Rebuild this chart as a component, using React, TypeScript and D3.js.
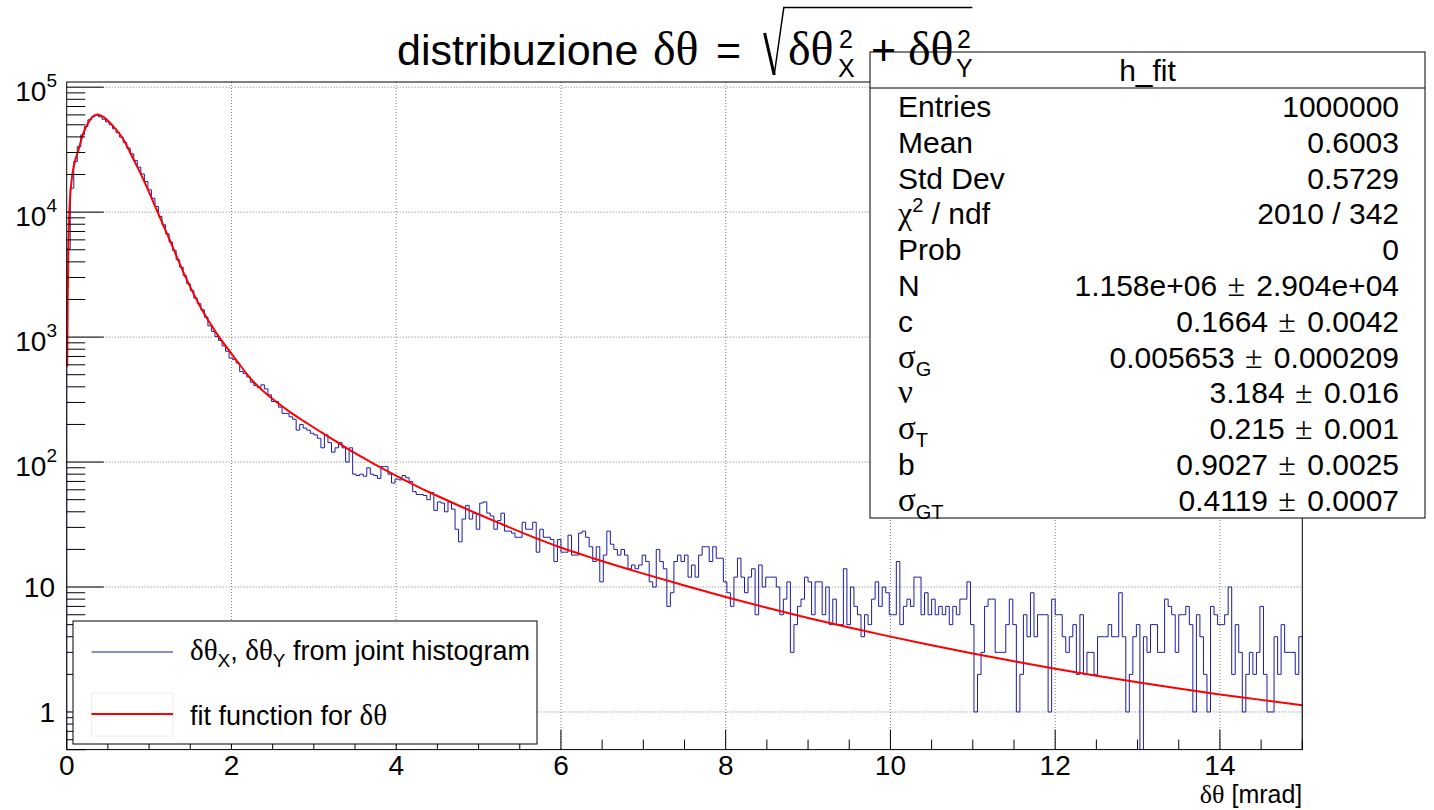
import React from 'react';
import * as d3 from 'd3';

const W = 1434;
const H = 810;
const SANS = "'Liberation Sans', Arial, Helvetica, sans-serif";
const SERIF = "'Liberation Serif', 'Times New Roman', serif";

// ---- histogram: 350 bins on [0, 15] mrad ----
const xMin = 0;
const xMax = 15;
const nBins = 350;

const peakCounts = [
  5100, 15550, 25450, 33500, 41550, 48450, 54800, 58000, 59700, 58000,
  55400, 52800, 50000, 46500, 43200, 39800, 36100, 32500, 29300, 25900,
  22900, 20200, 17600, 15100, 12900, 11100, 9230, 7920, 6710, 5760,
  4940, 4160, 3630, 3100, 2670, 2360, 2050, 1850, 1655, 1445,
  1230, 1110, 1010,
];
const shoulderCounts = [
  940, 850, 770, 680, 660, 620, 530, 510, 480, 435,
  410, 395, 415, 385, 345, 305, 305, 275, 245, 245,
  230, 220, 180, 200, 187, 180, 170, 165, 155, 130,
  165, 143, 120, 130, 143, 130, 100, 130, 80, 78,
  80, 77, 90, 80, 78, 74, 92, 92, 80, 68,
  73, 72, 78, 75, 70, 58, 55, 55, 54, 50,
  57, 41, 48, 47, 40, 48, 42,
];
const midCounts = [
  29, 23, 35, 45, 35, 39, 29, 47, 48, 39,
  37, 29, 34, 39, 28, 28, 27, 25, 25, 33,
  29, 29, 33, 19, 29, 25, 25, 24, 16, 24,
  19, 19, 26, 18, 18, 27, 28, 25, 21, 16,
  21, 11, 18, 28, 22, 20, 18, 20, 18, 14,
  15, 14, 15, 18, 16, 11, 10, 20, 16, 14,
  7, 9, 16, 18, 16, 18, 12, 15, 12, 18,
  21, 21,
];
const tailCountsA = [
  16, 21, 17, 17, 11, 9, 7, 12, 17, 12,
  9, 12, 14, 6, 15, 10, 12, 12, 12, 10,
  6, 8, 11, 3, 5, 7, 8, 12, 11, 6,
  11, 11, 6, 10, 5, 8, 5, 5, 14, 5,
  10, 7, 6, 4, 6, 5, 8, 11, 7, 10,
  9, 6, 6, 16,
];
const tailCountsB = [
  5, 7, 8, 7, 12, 12, 6, 9, 6, 8,
  6, 7, 6, 7, 5, 7, 6, 8, 8, 11,
  5, 1, 2, 3, 7, 8, 8, 3, 3, 3,
  5, 8, 5, 1, 2, 6, 4, 9, 4, 6,
  6, 6, 1, 8, 6, 6, 4, 3, 4, 5,
  2, 6, 2, 3, 3, 2, 4,
];
const tailCountsC = [
  4, 4, 5, 4, 4, 9, 4, 1, 2, 4,
  5, 0, 4, 3, 5, 5, 3, 3, 8, 7,
  6, 3, 6, 6, 7, 5, 1, 6, 4, 2,
  1, 7, 6, 5, 5, 6, 10, 2, 5, 3,
  1, 2, 3, 2, 3, 7, 2, 1, 1, 4,
  2, 5, 3, 3, 3, 2, 4,
];
const counts = [
  ...peakCounts, ...shoulderCounts, ...midCounts,
  ...tailCountsA, ...tailCountsB, ...tailCountsC,
];

// ---- fit function ----
const fitX = [
  0.006, 0.012, 0.02, 0.032, 0.06, 0.1, 0.14, 0.2, 0.28, 0.37,
  0.44, 0.56, 0.69, 0.81, 0.93, 1.09, 1.25, 1.45, 1.62, 1.82,
  2.02, 2.27, 2.47, 2.67, 2.87, 3.08, 3.28, 3.48, 3.68, 3.89,
  4.09, 4.29, 4.49, 4.69, 5.02, 5.3, 5.58, 5.99, 6.39, 7.0,
  7.5, 8.0, 8.5, 9.0, 9.5, 10.0, 10.5, 11.0, 11.5, 12.0,
  12.5, 13.0, 13.5, 14.0, 14.5, 15.0,
];
const fitY = [
  580, 1900, 5000, 9800, 18000, 25500, 31000, 42500, 54500, 60500,
  58000, 49000, 38000, 26500, 18300, 10500, 6000, 2950, 1760, 1070,
  708, 437, 331, 263, 214, 175, 145, 120, 101, 85,
  72.4, 62.2, 54, 47, 37.7, 31.5, 26.4, 20.8, 17.0, 12.8,
  10.27, 8.32, 6.82, 5.65, 4.74, 4.01, 3.42, 2.94, 2.55, 2.22,
  1.95, 1.73, 1.54, 1.38, 1.25, 1.13,
];

// ---- axes ----
const xMajorTicks = [0, 2, 4, 6, 8, 10, 12, 14];
const yDomain = [0.5, 1.1e5];
const yDecades = [0, 1, 2, 3, 4, 5];

// ---- stats box ----
const statLabels = ['Entries', 'Mean', 'Std Dev', 'chi2ndf', 'Prob', 'N', 'c', 'sigmaG', 'nu', 'sigmaT', 'b', 'sigmaGT'];
const statValues = ['1000000', '0.6003', '0.5729', '2010 / 342', '0'];
const fitParValues = ['1.158e+06', '0.1664', '0.005653', '3.184', '0.215', '0.9027', '0.4119'];
const fitParErrors = ['2.904e+04', '0.0042', '0.000209', '0.016', '0.001', '0.0025', '0.0007'];

const legendLabels = ['from joint histogram', 'fit function for'];

const L = 66.7, R = 1302.3, T = 82, B = 749.6;

function StatLabel({ k, x, y }: { k: string; x: number; y: number }) {
  const fs = 30;
  if (k === 'chi2ndf') {
    return (
      <text x={x} y={y} fontSize={fs}>
        <tspan fontFamily={SERIF} fontSize={32}>χ</tspan>
        <tspan fontSize={20} dy={-12}>2</tspan>
        <tspan dy={12}> / ndf</tspan>
      </text>
    );
  }
  if (k === 'sigmaG' || k === 'sigmaT' || k === 'sigmaGT') {
    const sub = k.slice(5);
    return (
      <text x={x} y={y} fontSize={fs}>
        <tspan fontFamily={SERIF} fontSize={33}>σ</tspan>
        <tspan fontSize={20} dy={8}>{sub}</tspan>
      </text>
    );
  }
  if (k === 'nu') {
    return (
      <text x={x} y={y} fontSize={33} fontFamily={SERIF}>ν</text>
    );
  }
  return <text x={x} y={y} fontSize={fs}>{k}</text>;
}

export default function App() {
  const x = d3.scaleLinear().domain([xMin, xMax]).range([L, R]);
  const y = d3.scaleLog().domain(yDomain).range([B, T]);
  const bw = (xMax - xMin) / nBins;
  const yFloor = B + 6;

  // histogram step outline
  let hd = `M${x(xMin)},${yFloor}`;
  counts.forEach((c, i) => {
    const yy = c > 0 ? y(c) : yFloor;
    hd += `L${x(xMin + i * bw)},${yy}L${x(xMin + (i + 1) * bw)},${yy}`;
  });
  hd += `L${x(xMax)},${yFloor}`;

  const fitPts: [number, number][] = fitX.map((v, i) => [v, fitY[i]]);
  const fitLine = d3
    .line<[number, number]>()
    .x((d) => x(d[0]))
    .y((d) => y(d[1]))
    .curve(d3.curveMonotoneX)(fitPts) as string;

  const xMinor = d3.range(0, 15.0001, 0.5);
  const yMinor: number[] = [];
  for (let dd = -1; dd <= 5; dd++) {
    for (let k = 2; k <= 9; k++) {
      const v = k * Math.pow(10, dd);
      if (v >= yDomain[0] && v <= yDomain[1]) yMinor.push(v);
    }
  }
  yMinor.push(0.5);

  const rowH = 35.8;
  const statTop = 88;

  return (
    <svg
      width={W}
      height={H}
      viewBox={`0 0 ${W} ${H}`}
      style={{ position: 'absolute', left: 0, top: 0, background: '#fff' }}
      fontFamily={SANS}
    >
      <defs>
        <clipPath id="frame">
          <rect x={L} y={T} width={R - L} height={B - T} />
        </clipPath>
      </defs>
      <rect x={0} y={0} width={W} height={H} fill="#fff" />

      {/* grid */}
      <g stroke="#7a7a7a" strokeWidth={1} strokeDasharray="1 2">
        {xMajorTicks.filter((t) => t > 0).map((t) => (
          <line key={'gx' + t} x1={x(t)} x2={x(t)} y1={T} y2={B} />
        ))}
        {yDecades.map((dd) => (
          <line key={'gy' + dd} x1={L} x2={R} y1={y(Math.pow(10, dd))} y2={y(Math.pow(10, dd))} />
        ))}
      </g>

      {/* histogram + fit */}
      <g clipPath="url(#frame)">
        <path d={hd} fill="none" stroke="#1c1ca6" strokeWidth={1} />
        <path d={fitLine} fill="none" stroke="#ff0000" strokeWidth={2} />
      </g>

      {/* ticks */}
      <g stroke="#000" strokeWidth={1}>
        {xMinor.map((t) => {
          const major = Math.abs(t / 2 - Math.round(t / 2)) < 1e-6;
          return (
            <line key={'tx' + t} x1={x(t)} x2={x(t)} y1={B} y2={B - (major ? 20 : 10)} />
          );
        })}
        {yDecades.map((dd) => (
          <line key={'tyM' + dd} x1={L} x2={L + 37} y1={y(Math.pow(10, dd))} y2={y(Math.pow(10, dd))} />
        ))}
        {yMinor.map((v) => (
          <line key={'tym' + v} x1={L} x2={L + 18.5} y1={y(v)} y2={y(v)} />
        ))}
      </g>

      {/* frame */}
      <rect x={L} y={T} width={R - L} height={B - T} fill="none" stroke="#000" strokeWidth={1} />

      {/* x labels */}
      <g fontSize={28} textAnchor="middle" fill="#000">
        {xMajorTicks.map((t) => (
          <text key={'lx' + t} x={x(t)} y={774.5}>{t}</text>
        ))}
      </g>
      <text x={R} y={803} fontSize={25} textAnchor="end">
        <tspan fontFamily={SERIF} fontSize={26}>δθ</tspan>
        <tspan> [mrad]</tspan>
      </text>

      {/* y labels */}
      <g fontSize={28} textAnchor="end" fill="#000">
        {yDecades.map((dd) => {
          const yy = y(Math.pow(10, dd));
          if (dd === 0) return <text key={'ly' + dd} x={55} y={yy + 10}>1</text>;
          if (dd === 1) return <text key={'ly' + dd} x={55} y={yy + 10}>10</text>;
          return (
            <text key={'ly' + dd} x={57} y={yy + 14}>
              10<tspan fontSize={19} dy={-14}>{dd}</tspan>
            </text>
          );
        })}
      </g>

      {/* legend */}
      <rect x={73} y={621} width={464} height={123} fill="#fff" stroke="#000" strokeWidth={1} />
      <line x1={91.5} x2={173} y1={652} y2={652} stroke="#1c1ca6" strokeWidth={1} />
      <text x={190} y={660} fontSize={27}>
        <tspan fontFamily={SERIF} fontSize={29}>δθ</tspan>
        <tspan fontSize={19} dy={7}>X</tspan>
        <tspan dy={-7}>, </tspan>
        <tspan fontFamily={SERIF} fontSize={29}>δθ</tspan>
        <tspan fontSize={19} dy={7}>Y</tspan>
        <tspan dy={-7}> {legendLabels[0]}</tspan>
      </text>
      <rect x={91.5} y={693} width={81.5} height={43} fill="none" stroke="#ececec" strokeWidth={1} />
      <line x1={91.5} x2={173} y1={714} y2={714} stroke="#ff0000" strokeWidth={2} />
      <text x={190} y={725} fontSize={27}>
        {legendLabels[1]} <tspan fontFamily={SERIF} fontSize={29}>δθ</tspan>
      </text>

      {/* stats box */}
      <rect x={870} y={52} width={555} height={466} fill="#fff" stroke="#000" strokeWidth={1} />
      <line x1={870} x2={1425} y1={statTop} y2={statTop} stroke="#000" strokeWidth={1} />
      <text x={1147.5} y={81} fontSize={30} textAnchor="middle">h_fit</text>
      {statLabels.map((k, i) => {
        const base = statTop + rowH * (i + 0.5) + 11;
        const p = i - statValues.length;
        return (
          <g key={'st' + i}>
            <StatLabel k={k} x={898} y={base} />
            {p < 0 ? (
              <text x={1399} y={base} fontSize={30} textAnchor="end">{statValues[i]}</text>
            ) : (
              <text x={1399} y={base} fontSize={30} textAnchor="end">
                {fitParValues[p] + ' '}
                <tspan dx={2} fontFamily={SERIF} fontSize={32}>±</tspan>
                <tspan dx={3}>{' ' + fitParErrors[p]}</tspan>
              </text>
            )}
          </g>
        );
      })}

      {/* title */}
      <g fill="#000">
        <text x={397} y={65} fontSize={43}>distribuzione</text>
        <text x={653} y={65} fontSize={48} fontFamily={SERIF}>δθ</text>
        <text x={716} y={65} fontSize={43}>=</text>
        <path d="M764.6,33 L774.2,75" stroke="#000" strokeWidth={3} fill="none" />
        <path d="M774.2,75 L783.8,7.5 L972.3,7.5" stroke="#000" strokeWidth={1.5} fill="none" />
        <text x={788} y={65} fontSize={48} fontFamily={SERIF}>δθ</text>
        <text x={839} y={48} fontSize={25}>2</text>
        <text x={838} y={77} fontSize={25}>X</text>
        <text x={871} y={65} fontSize={43}>+</text>
        <text x={908} y={65} fontSize={48} fontFamily={SERIF}>δθ</text>
        <text x={957} y={48} fontSize={25}>2</text>
        <text x={956} y={77} fontSize={25}>Y</text>
      </g>
    </svg>
  );
}
